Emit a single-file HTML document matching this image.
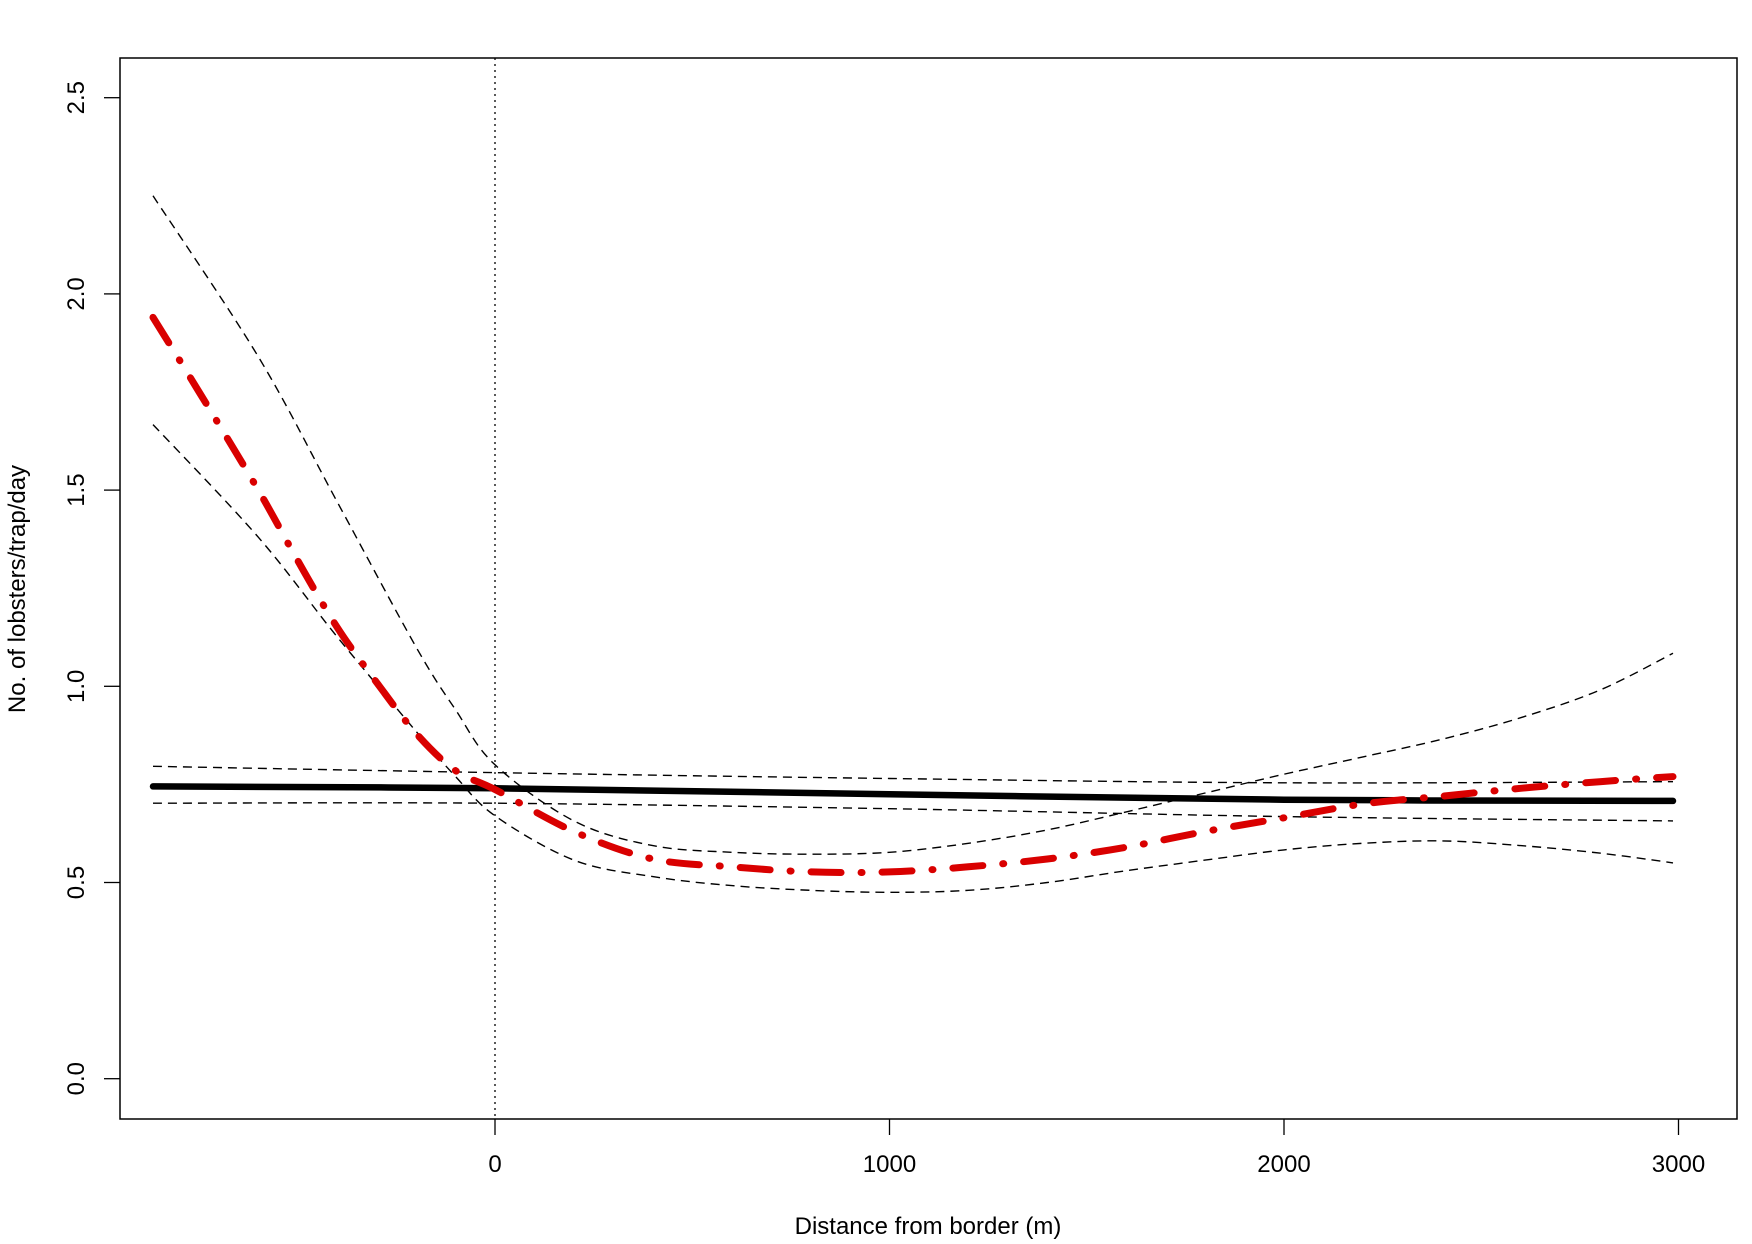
<!DOCTYPE html>
<html><head><meta charset="utf-8"><style>
html,body{margin:0;padding:0;background:#fff;}
svg text{font-family:"Liberation Sans",Arial,sans-serif;fill:#000;}
</style></head><body>
<svg id="chart" width="1752" height="1239" viewBox="0 0 1752 1239" xmlns="http://www.w3.org/2000/svg">
<rect x="0" y="0" width="1752" height="1239" fill="#fff"/>
<g id="plot"></g>
<g id="axes"></g>
<rect x="120" y="58" width="1617" height="1061" fill="none" stroke="#000" stroke-width="1.5"/>
<text x="928" y="1234" font-size="24" text-anchor="middle">Distance from border (m)</text>
<text transform="translate(25,589) rotate(-90)" font-size="24" text-anchor="middle">No. of lobsters/trap/day</text>
</svg>
<script>
const xs = [-867,-750,-600,-500,-400,-300,-200,-100,0,200,400,600,800,1000,1200,1400,1600,1800,2000,2200,2400,2600,2800,2986];
const redFit = [1.94,1.75,1.50,1.32,1.15,1.01,0.88,0.785,0.737,0.63,0.56,0.54,0.527,0.527,0.54,0.56,0.59,0.63,0.665,0.70,0.72,0.74,0.757,0.77];
const xsCI = [-867,-600,-400,-200,-100,0,200,400,600,800,1000,1200,1400,1600,1800,2000,2200,2400,2600,2800,2986];
const redUpper = [2.25,1.84,1.47,1.10,0.94,0.80,0.657,0.594,0.577,0.572,0.577,0.60,0.634,0.68,0.728,0.776,0.82,0.865,0.92,0.99,1.084];
const redLower = [1.667,1.38,1.126,0.885,0.77,0.67,0.557,0.515,0.492,0.48,0.475,0.48,0.50,0.53,0.557,0.583,0.60,0.606,0.594,0.575,0.55];
const xsBlack = [-867,0,1000,2000,2986];
const blackFit = [0.745,0.74,0.725,0.711,0.708];
const blackUpper = [0.796,0.78,0.765,0.754,0.757];
const blackLower = [0.702,0.702,0.688,0.668,0.657];
const xTicks = [0,1000,2000,3000];
const yTicks = [0.0,0.5,1.0,1.5,2.0,2.5];
const xTickLabels = ["0","1000","2000","3000"];
const yTickLabels = ["0.0","0.5","1.0","1.5","2.0","2.5"];

const NS="http://www.w3.org/2000/svg";
function sx(v){return 495 + v*0.3945;}
function sy(v){return 1078.7 - v*392.4;}
function pathFrom(xa,ya){
  const p=xa.map((x,i)=>[sx(x),sy(ya[i])]);
  let d="M"+p[0][0].toFixed(1)+","+p[0][1].toFixed(1);
  for(let i=0;i<p.length-1;i++){
    const p0=p[Math.max(0,i-1)],p1=p[i],p2=p[i+1],p3=p[Math.min(p.length-1,i+2)];
    const c1=[p1[0]+(p2[0]-p0[0])/6,p1[1]+(p2[1]-p0[1])/6];
    const c2=[p2[0]-(p3[0]-p1[0])/6,p2[1]-(p3[1]-p1[1])/6];
    d+=" C"+c1[0].toFixed(1)+","+c1[1].toFixed(1)+" "+c2[0].toFixed(1)+","+c2[1].toFixed(1)+" "+p2[0].toFixed(1)+","+p2[1].toFixed(1);
  }
  return d;
}
const plot=document.getElementById('plot');
const axes=document.getElementById('axes');
function addPath(d,stroke,w,dash,cap){
  const e=document.createElementNS(NS,'path');
  e.setAttribute('d',d);e.setAttribute('fill','none');e.setAttribute('stroke',stroke);
  e.setAttribute('stroke-width',w);if(dash)e.setAttribute('stroke-dasharray',dash);
  e.setAttribute('stroke-linecap',cap||'butt');
  plot.appendChild(e);return e;
}
// vertical dotted border line at x=0
let v=addPath("M"+sx(0)+",58 L"+sx(0)+",1119","#000",1.3,"2 4");



let e;
e=addPath(pathFrom(xsBlack,blackUpper),"#000",1.4,"9 6");


e=addPath(pathFrom(xsBlack,blackLower),"#000",1.4,"9 6");


e=addPath(pathFrom(xsCI,redUpper),"#000",1.4,"9 6");


e=addPath(pathFrom(xsCI,redLower),"#000",1.4,"9 6");


e=addPath(pathFrom(xsBlack,blackFit),"#000",6.5,null,"round");


e=addPath(pathFrom(xs,redFit),"#d90000",7,"30 20 1 20","round");



xTicks.forEach((t,i)=>{
  const l=document.createElementNS(NS,'line');
  l.setAttribute('x1',sx(t));l.setAttribute('x2',sx(t));l.setAttribute('y1',1119);l.setAttribute('y2',1135);
  l.setAttribute('stroke','#000');l.setAttribute('stroke-width',1.3);
  
  
  axes.appendChild(l);
  const tx=document.createElementNS(NS,'text');
  tx.setAttribute('x',sx(t));tx.setAttribute('y',1172);tx.setAttribute('font-size','24');tx.setAttribute('text-anchor','middle');
  tx.textContent=xTickLabels[i];
  
  
  axes.appendChild(tx);
});
yTicks.forEach((t,i)=>{
  const l=document.createElementNS(NS,'line');
  l.setAttribute('x1',104);l.setAttribute('x2',120);l.setAttribute('y1',sy(t));l.setAttribute('y2',sy(t));
  l.setAttribute('stroke','#000');l.setAttribute('stroke-width',1.3);
  
  
  axes.appendChild(l);
  const tx=document.createElementNS(NS,'text');
  tx.setAttribute('transform','translate(84,'+sy(t)+') rotate(-90)');
  tx.setAttribute('font-size','24');tx.setAttribute('text-anchor','middle');
  tx.textContent=yTickLabels[i];
  
  
  axes.appendChild(tx);
});
</script>
</body></html>
